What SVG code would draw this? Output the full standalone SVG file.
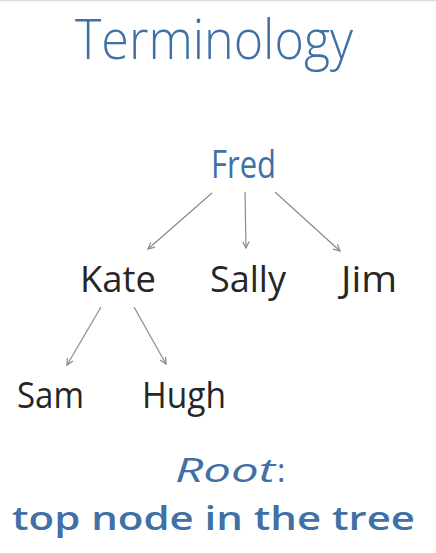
<svg xmlns="http://www.w3.org/2000/svg" width="436" height="553" viewBox="0 0 436 553">
<defs>
<style>
.t{font-family:"Open Sans","Liberation Sans",sans-serif}
.l{font-family:"Open Sans","Liberation Sans",sans-serif;font-weight:300}
.n{font-family:"Open Sans","Liberation Sans",sans-serif;font-weight:400}
.blue{fill:#3f70a6}
.lbl{font-size:37px;fill:#262626}
.edge{stroke:#8a8a8a;stroke-width:1.2;fill:none;marker-end:url(#ah)}
</style>
<marker id="ah" viewBox="0 0 10 10" refX="9" refY="5" markerWidth="8" markerHeight="8" orient="auto" markerUnits="userSpaceOnUse">
<path d="M1,1 L9,5 L1,9" fill="none" stroke="#8a8a8a" stroke-width="1.5"/>
</marker>
</defs>
<rect width="436" height="553" fill="#fff"/>
<line x1="0" y1="0.5" x2="436" y2="0.5" stroke="#dcdcdc" stroke-width="1.5"/>
<text class="l blue" x="75" y="59" font-size="56" textLength="278" lengthAdjust="spacingAndGlyphs">Terminology</text>
<g id="edges">
<line class="edge" x1="212" y1="193" x2="148" y2="249"/>
<line class="edge" x1="245" y1="192" x2="246" y2="248"/>
<line class="edge" x1="275" y1="192" x2="340" y2="251"/>
<line class="edge" x1="101" y1="307" x2="67" y2="365"/>
<line class="edge" x1="134" y1="307" x2="166" y2="364"/>
</g>
<g id="fred"><text class="n blue" x="211" y="178" font-size="38" textLength="65" lengthAdjust="spacingAndGlyphs">Fred</text></g>
<g id="kate"><text class="n lbl" x="80" y="292" textLength="76" lengthAdjust="spacingAndGlyphs">Kate</text></g>
<g id="sally"><text class="n lbl" x="210" y="292" textLength="76" lengthAdjust="spacingAndGlyphs">Sally</text></g>
<g id="jim"><text class="n lbl" x="341" y="292" textLength="56" lengthAdjust="spacingAndGlyphs">Jim</text></g>
<g id="sam"><text class="n lbl" x="17" y="408" textLength="67" lengthAdjust="spacingAndGlyphs">Sam</text></g>
<g id="hugh"><text class="n lbl" x="142" y="408" textLength="84" lengthAdjust="spacingAndGlyphs">Hugh</text></g>
<text class="t blue" x="175" y="482" font-size="32"><tspan font-style="italic" textLength="100" lengthAdjust="spacingAndGlyphs">Root</tspan><tspan x="277">:</tspan></text>
<text class="t blue" x="12" y="530" font-size="33" font-weight="600" textLength="403" lengthAdjust="spacingAndGlyphs">top node in the tree</text>
</svg>
